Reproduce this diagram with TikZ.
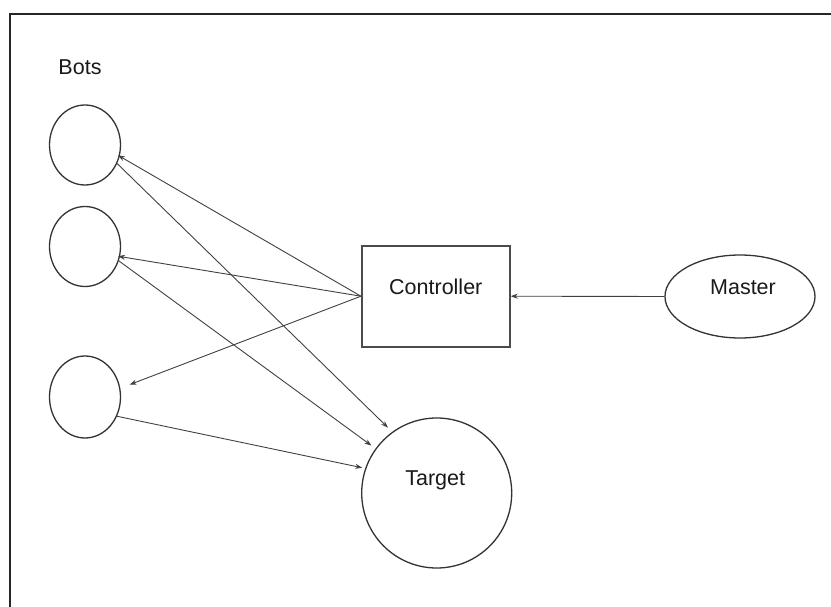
\documentclass[tikz,border=0pt]{standalone}
\usepackage{fontspec}
\setmainfont{Liberation Sans}
\usetikzlibrary{arrows.meta,shapes.geometric}
\begin{document}
\begin{tikzpicture}[x=1pt,y=-1pt,
  font=\fontsize{21.5}{26}\selectfont,
  bot/.style={ellipse,draw=black!80,line width=1.3pt,minimum width=71pt,minimum height=80pt,inner sep=0pt},
  conn/.style={draw=black!75,line width=0.9pt,-{Stealth[length=7pt,width=5pt]}},
  lbl/.style={text=black!90}
]
\useasboundingbox (0,0) rectangle (831,607);
\draw[line width=2pt,black!85] (9.5,607) -- (9.5,14) -- (831,14);

\node[lbl] (botslabel) at (80,67) {Bots};
\node[bot] (bot1) at (85,145) {};
\node[bot] (bot2) at (85,246.5) {};
\node[bot,minimum height=82pt] (bot3) at (85,397) {};

\node[rectangle,draw=black!70,line width=1.8pt,minimum width=148pt,minimum height=101pt,inner sep=0pt,
  label={[lbl,name=ctrltext,yshift=9pt]center:Controller}] (ctrl) at (435.8,296.2) {};
\node[ellipse,draw=black!80,line width=1.3pt,minimum width=150pt,minimum height=83pt,inner sep=0pt,
  label={[lbl,name=mastertext,xshift=3pt,yshift=9.5pt]center:Master}] (master) at (740,296.5) {};
\node[circle,draw=black!80,line width=1.3pt,minimum size=150pt,inner sep=0pt,
  label={[lbl,name=targettext,xshift=-1.5pt,yshift=13pt]center:Target}] (target) at (436.7,493) {};

\draw[conn] (master.west) -- (ctrl.east);
\draw[conn,shorten >=-2pt] (ctrl.west) -- (bot1.-18);
\draw[conn,shorten >=-2pt] (ctrl.west) -- (bot2.-16);
\draw[conn,shorten >=10pt] (ctrl.west) -- (bot3.14);
\draw[conn,shorten >=6pt] (bot1.-30) -- (target.126);
\draw[conn,shorten >=5pt] (bot2.-23) -- (target.144);
\draw[conn,shorten >=3pt] (bot3.-31) -- (target.161);
\end{tikzpicture}
\end{document}
